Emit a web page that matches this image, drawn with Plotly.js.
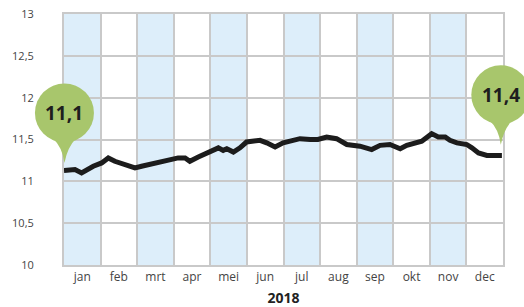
<!DOCTYPE html>
<html>
<head>
<meta charset="utf-8">
<script src="https://cdn.plot.ly/plotly-3.0.1.min.js"></script>
<style>html,body{margin:0;padding:0;background:#fff;}#chart{width:524px;height:307px;}</style>
</head>
<body>
<div id="chart"></div>
<script>
// Month labels (Dutch)
const months = ['jan','feb','mrt','apr','mei','jun','jul','aug','sep','okt','nov','dec'];
// Position in months since 1 Jan 2018
const xMonths = [0.00,0.30,0.48,0.62,0.80,1.03,1.21,1.39,1.58,1.76,1.94,2.12,2.30,2.49,2.76,2.90,3.12,3.31,3.44,3.67,3.94,4.22,4.35,4.45,4.63,4.81,4.99,5.17,5.36,5.54,5.77,5.99,6.18,6.45,6.73,6.94,7.18,7.45,7.73,8.09,8.41,8.64,8.91,9.19,9.37,9.78,10.05,10.23,10.42,10.55,10.74,11.01,11.15,11.33,11.56,11.97];
const values = [11.13,11.14,11.10,11.14,11.18,11.22,11.28,11.24,11.21,11.18,11.16,11.18,11.20,11.22,11.24,11.26,11.28,11.28,11.24,11.29,11.35,11.40,11.37,11.39,11.35,11.40,11.47,11.48,11.49,11.46,11.41,11.46,11.48,11.51,11.50,11.50,11.53,11.51,11.44,11.42,11.38,11.43,11.44,11.39,11.43,11.48,11.57,11.53,11.53,11.49,11.46,11.44,11.40,11.34,11.31,11.31];
const startLabel = '11,1';
const endLabel = '11,4';

const green = '#a8c66c';
const gridCol = '#c9c9c9';
const shade = '#ddeefa';

const shapes = [];
for (let i = 0; i < 12; i += 2) {
  shapes.push({type:'rect', xref:'x', yref:'paper', x0:i, x1:i+1, y0:0, y1:1,
    fillcolor:shade, line:{width:0}, layer:'below'});
}
function bubble(xa, ya) {
  shapes.push({type:'circle', xref:'paper', yref:'paper', xsizemode:'pixel', ysizemode:'pixel',
    xanchor:xa, yanchor:ya, x0:-29.5, x1:29.5, y0:-29.5, y1:29.5,
    fillcolor:green, line:{width:0}, layer:'above'});
  shapes.push({type:'path', xref:'paper', yref:'paper', xsizemode:'pixel', ysizemode:'pixel',
    xanchor:xa, yanchor:ya, path:'M -12,-25 Q -2,-34 0,-50 Q 3,-34 12,-25 Z',
    fillcolor:green, line:{width:0}, layer:'above'});
}
bubble(0.001, 0.606);
bubble(0.995, 0.678);

const trace = {
  x: xMonths, y: values, type:'scatter', mode:'lines',
  line:{color:'#1c1c1c', width:5}, hoverinfo:'skip'
};

const layout = {
  width:524, height:307,
  margin:{l:64, r:21, t:14, b:42},
  separators:',.',
  paper_bgcolor:'#fff', plot_bgcolor:'#fff',
  showlegend:false,
  font:{family:'Open Sans, sans-serif', color:'#444', size:11},
  xaxis:{
    range:[0,12], tickmode:'array',
    tickvals: months.map((m,i)=>i+0.5), ticktext: months,
    showgrid:false, zeroline:false,
    showline:true, mirror:true, linecolor:gridCol, linewidth:2,
    ticks:'', tickfont:{size:12, color:'#444'},
    minor:{tickmode:'array', tickvals:[0,1,2,3,4,5,6,7,8,9,10,11,12], showgrid:true, gridcolor:gridCol, gridwidth:2, ticks:''},
    title:{text:'2018', font:{size:14, color:'#222', weight:'bold'}, standoff:14},
    automargin:false, fixedrange:true
  },
  yaxis:{
    range:[10,13], dtick:0.5, tick0:10,
    showgrid:true, gridcolor:gridCol, gridwidth:2, zeroline:false,
    showline:true, mirror:true, linecolor:gridCol, linewidth:2,
    ticks:'', ticklabelstandoff:26, tickfont:{size:11, color:'#444'},
    automargin:false, fixedrange:true
  },
  shapes: shapes,
  annotations:[
    {xref:'paper', yref:'paper', x:0.001, y:0.606, text:startLabel, showarrow:false,
      font:{size:19, color:'#1e1e1e', weight:'bold', family:'Open Sans, sans-serif'}, xanchor:'center', yanchor:'middle'},
    {xref:'paper', yref:'paper', x:0.995, y:0.678, text:endLabel, showarrow:false,
      font:{size:19, color:'#1e1e1e', weight:'bold', family:'Open Sans, sans-serif'}, xanchor:'center', yanchor:'middle'}
  ]
};

Plotly.newPlot('chart', [trace], layout, {displayModeBar:false, staticPlot:true});
</script>
</body>
</html>
